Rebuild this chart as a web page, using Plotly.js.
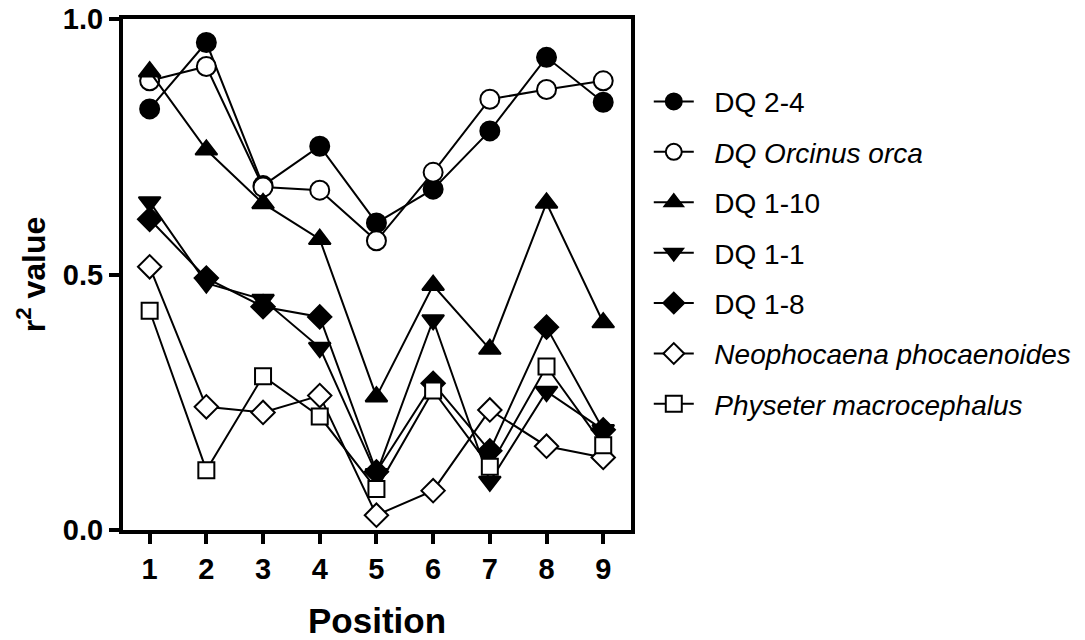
<!DOCTYPE html>
<html>
<head>
<meta charset="utf-8">
<script src="https://cdn.plot.ly/plotly-3.0.1.min.js"></script>
<style>html,body{margin:0;padding:0;background:#fff;}#chart{width:1085px;height:640px;}</style>
</head>
<body>
<div id="chart"></div>
<script>
const positions = [1, 2, 3, 4, 5, 6, 7, 8, 9];
const seriesNames = ["DQ 2-4", "<i>DQ Orcinus orca</i>", "DQ 1-10", "DQ 1-1", "DQ 1-8", "<i>Neophocaena phocaenoides</i>", "<i>Physeter macrocephalus</i>"];
const dq24 = [0.824, 0.954, 0.674, 0.751, 0.601, 0.667, 0.781, 0.925, 0.837];
const orca = [0.879, 0.907, 0.671, 0.665, 0.566, 0.700, 0.843, 0.862, 0.879];
const dq110 = [0.897, 0.744, 0.639, 0.569, 0.261, 0.479, 0.354, 0.640, 0.406];
const dq11 = [0.642, 0.483, 0.451, 0.357, 0.110, 0.411, 0.095, 0.271, 0.196];
const dq18 = [0.608, 0.493, 0.437, 0.417, 0.114, 0.287, 0.155, 0.397, 0.196];
const neo = [0.515, 0.241, 0.230, 0.263, 0.029, 0.077, 0.235, 0.164, 0.142];
const phy = [0.429, 0.117, 0.301, 0.222, 0.080, 0.273, 0.124, 0.320, 0.166];
const yTickVals = [0, 0.5, 1.0];
const yTickText = ["0.0", "0.5", "1.0"];

const allValues = [dq24, orca, dq110, dq11, dq18, neo, phy];
const symbols = ["circle", "circle", "triangle-up", "triangle-down", "diamond", "diamond", "square"];
const fills = ["#000", "#fff", "#000", "#000", "#000", "#fff", "#fff"];
const sizes = [19, 19, 19, 19, 18, 18, 16];

const traces = allValues.map((vals, i) => ({
  x: positions,
  y: vals,
  name: "&nbsp;&nbsp;" + seriesNames[i],
  legendgroup: "g" + i,
  type: "scatter",
  mode: "lines+markers",
  line: {color: "#000", width: 2},
  marker: {symbol: symbols[i], size: sizes[i], color: fills[i], line: {color: "#000", width: 2}},
  cliponaxis: false
}));

const FAM = "Liberation Sans, Arial, sans-serif";
const bold = {family: FAM, size: 29, color: "#000", weight: "bold"};

const layout = {
  width: 1085, height: 640,
  margin: {l: 123, r: 454, t: 19, b: 110, autoexpand: false},
  paper_bgcolor: "#fff", plot_bgcolor: "#fff",
  showlegend: true,
  legend: {
    x: 1.035, y: 0.887, xanchor: "left", yanchor: "top",
    font: {family: FAM, size: 28, color: "#000"},
    traceorder: "grouped", tracegroupgap: 11,
    itemwidth: 40, bgcolor: "rgba(0,0,0,0)"
  },
  xaxis: {
    range: [0.53, 9.49], tickmode: "array", tickvals: positions,
    ticks: "outside", ticklen: 10, tickwidth: 4, tickcolor: "#000",
    showline: true, linewidth: 4, linecolor: "#000", mirror: true,
    showgrid: false, zeroline: false,
    tickfont: bold,
    title: {text: "Position", font: {family: FAM, size: 35, color: "#000", weight: "bold"}, standoff: 33}
  },
  yaxis: {
    range: [0, 1], tickmode: "array", tickvals: yTickVals, ticktext: yTickText,
    ticks: "outside", ticklen: 10, tickwidth: 4, tickcolor: "#000",
    showline: true, linewidth: 4, linecolor: "#000", mirror: true,
    showgrid: false, zeroline: false,
    tickfont: bold,
    title: {text: "r<sup>2</sup> value", font: {family: FAM, size: 32, color: "#000", weight: "bold"}, standoff: 9}
  }
};

Plotly.newPlot("chart", traces, layout, {displayModeBar: false, staticPlot: true});
</script>
</body>
</html>
